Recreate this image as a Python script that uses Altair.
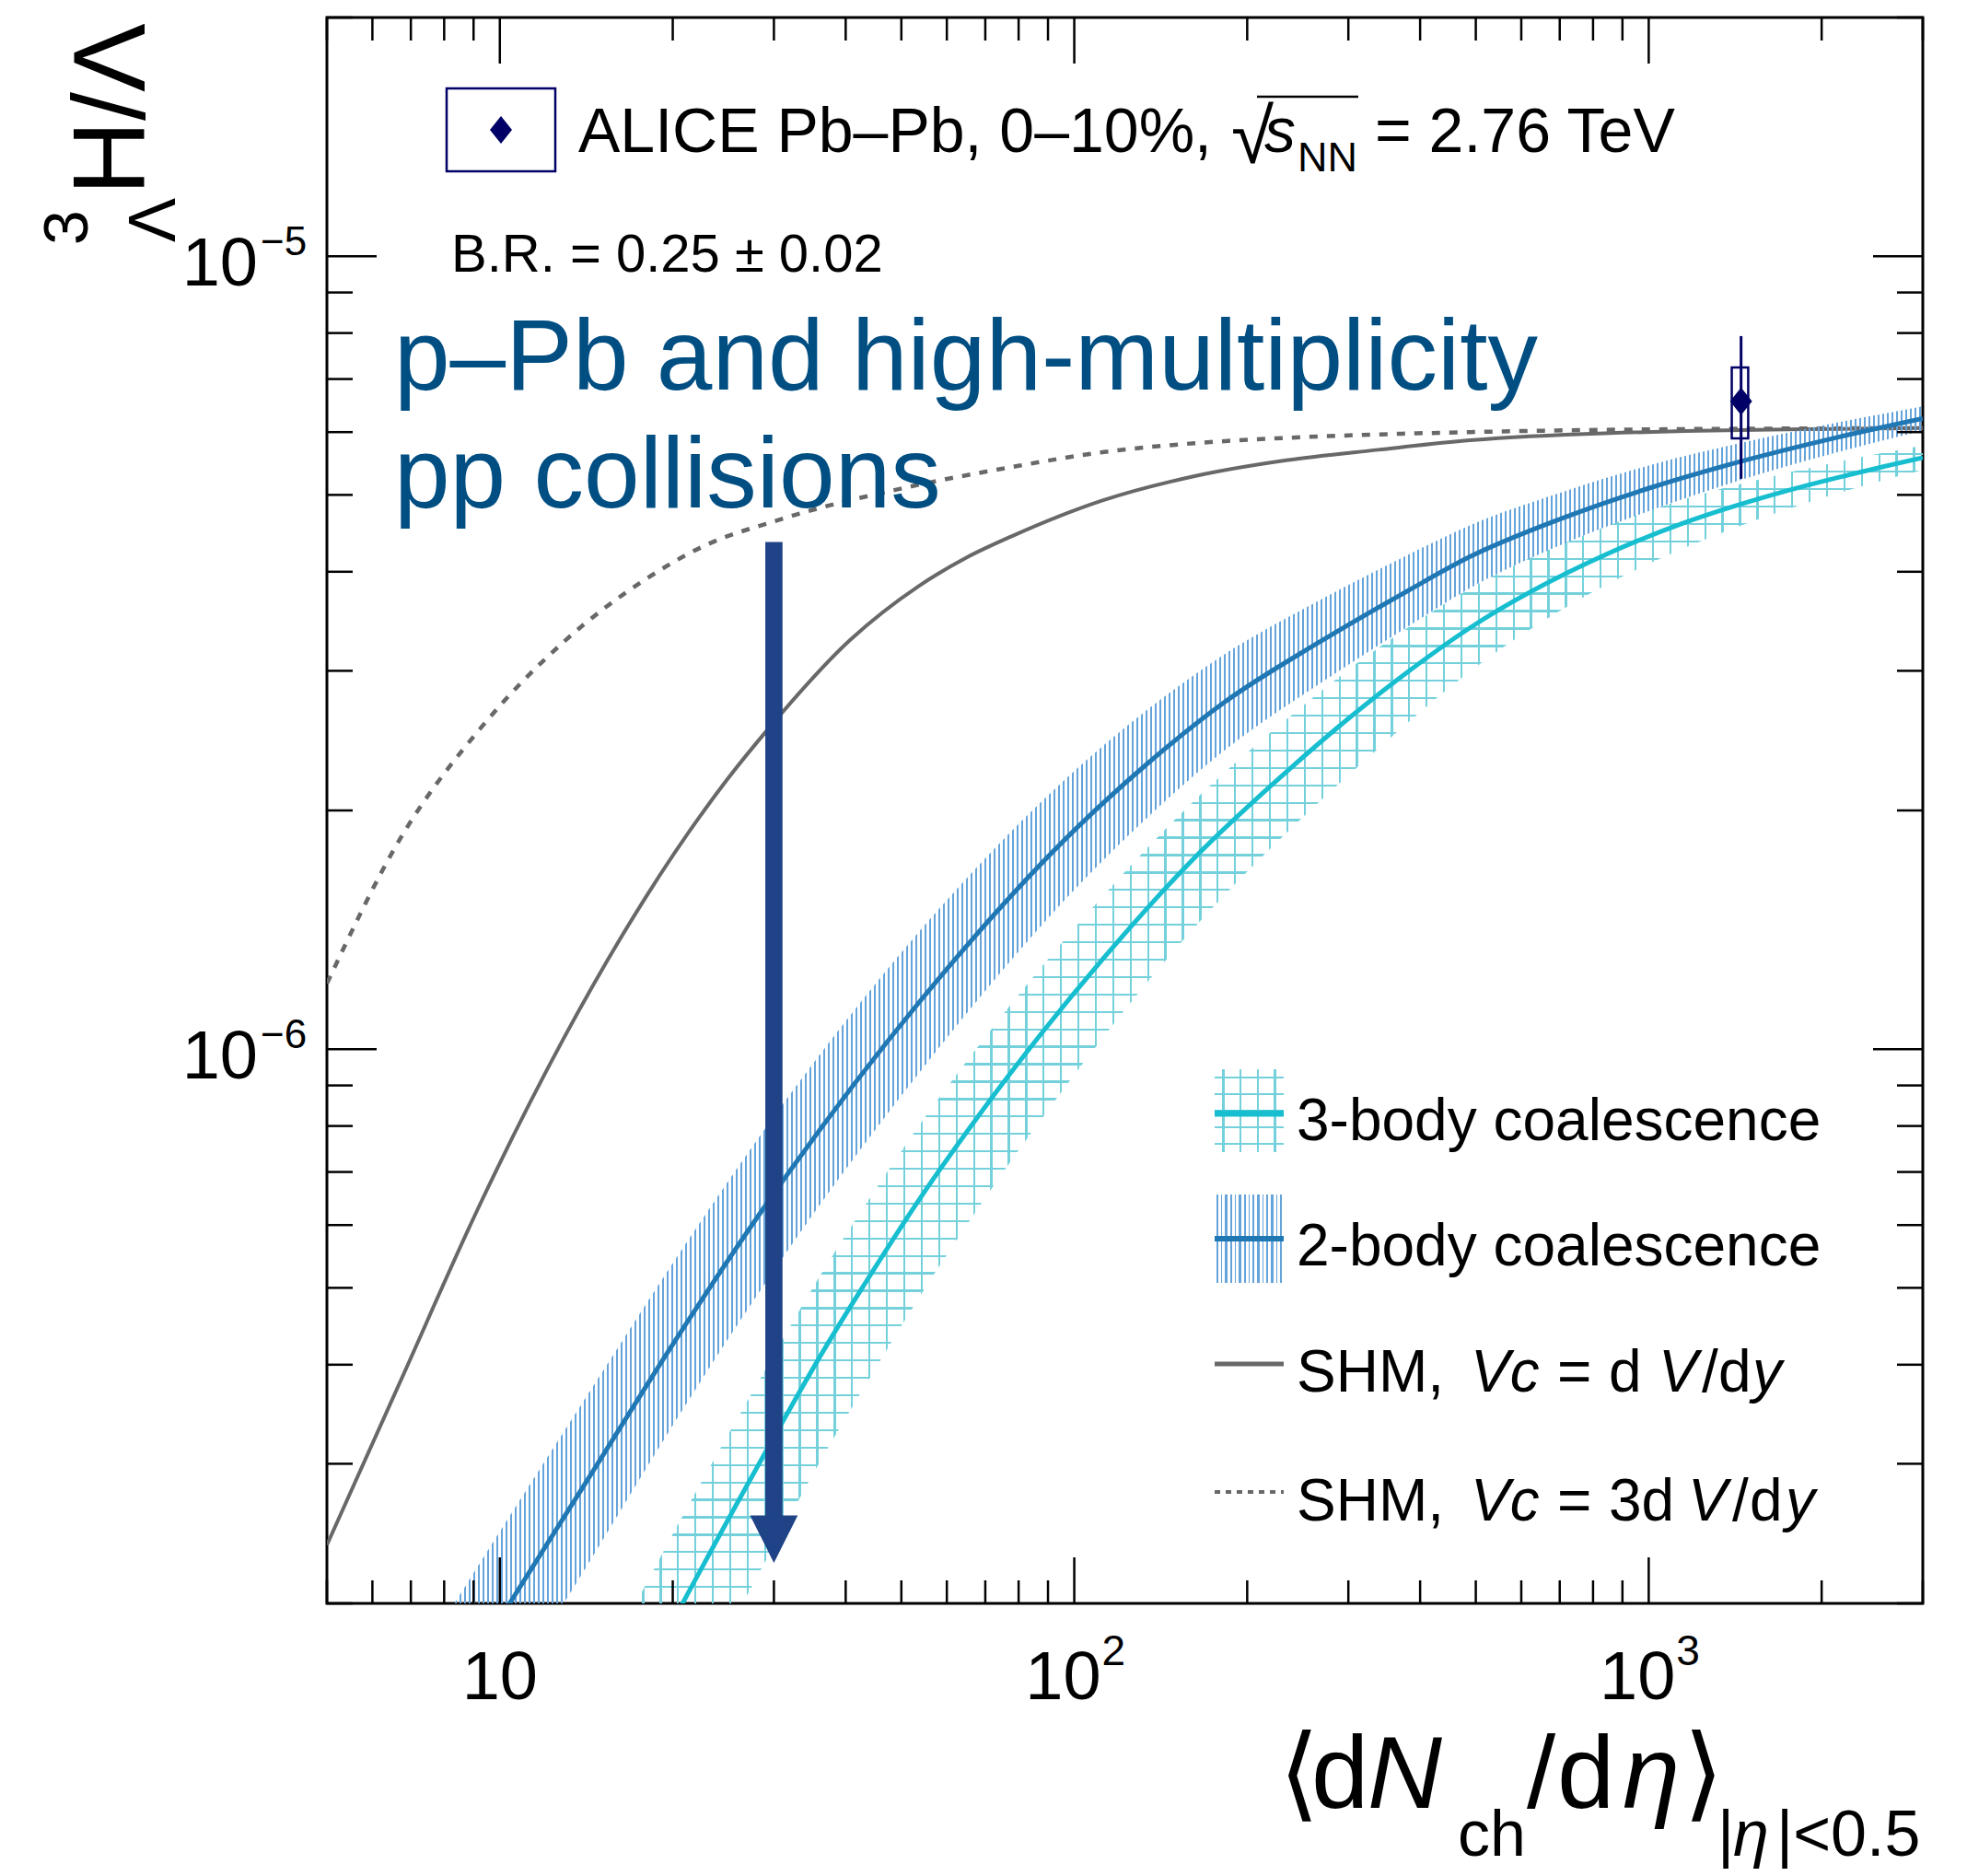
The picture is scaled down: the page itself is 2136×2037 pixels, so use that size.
import altair as alt
import pandas as pd

FONT = "Liberation Sans, Arial, Helvetica, sans-serif"
W, H = 1733, 1722

# ---------------- values ----------------
# SHM, Vc = dV/dy  (solid grey)
shm1_x = [5, 6.7, 9.3, 12.9, 17.9, 24.9, 29.4, 40.7, 53.7, 65, 77.6, 112, 162, 234, 338, 489, 837, 3000]
shm1_y = [2.37e-7, 3.80e-7, 6.44e-7, 1.03e-6, 1.55e-6, 2.19e-6, 2.54e-6, 3.28e-6, 3.84e-6, 4.17e-6,
          4.43e-6, 4.92e-6, 5.28e-6, 5.53e-6, 5.70e-6, 5.86e-6, 5.98e-6, 6.07e-6]
# SHM, Vc = 3dV/dy  (dotted grey)
shm3_x = [5, 6.7, 9.3, 12.9, 17.9, 22.5, 30.9, 53.7, 77.6, 112, 162, 234, 338, 489, 837, 3000]
shm3_y = [1.21e-6, 1.84e-6, 2.55e-6, 3.26e-6, 3.91e-6, 4.30e-6, 4.66e-6, 5.15e-6, 5.42e-6, 5.66e-6,
          5.81e-6, 5.90e-6, 5.96e-6, 6.00e-6, 6.04e-6, 6.07e-6]
# 2-body coalescence: central value and band
b2_x = [8, 10.4, 14.8, 19.9, 30.9, 53.7, 101.6, 133, 183, 265, 382, 489, 706, 1020, 1474, 2131, 3000]
b2_y = [1.48e-7, 2.00e-7, 3.00e-7, 4.22e-7, 6.78e-7, 1.146e-6, 1.909e-6, 2.28e-6, 2.742e-6, 3.25e-6,
        3.79e-6, 4.18e-6, 4.67e-6, 5.12e-6, 5.53e-6, 5.91e-6, 6.24e-6]
b2_hi = [1.907e-7, 2.576e-7, 3.835e-7, 5.340e-7, 8.472e-7, 1.407e-6, 2.267e-6, 2.668e-6, 3.152e-6,
         3.671e-6, 4.205e-6, 4.579e-6, 5.038e-6, 5.468e-6, 5.832e-6, 6.170e-6, 6.465e-6]
b2_lo = [1.149e-7, 1.553e-7, 2.347e-7, 3.335e-7, 5.426e-7, 9.335e-7, 1.607e-6, 1.949e-6, 2.385e-6,
         2.878e-6, 3.416e-6, 3.816e-6, 4.328e-6, 4.794e-6, 5.244e-6, 5.661e-6, 6.023e-6]
# 3-body coalescence: central value and band
b3_x = [16, 20.8, 28.7, 37.2, 42, 53.7, 68.7, 87.7, 112, 160, 234, 299, 360, 489, 848, 1153, 1667, 2131, 3000]
b3_y = [1.40e-7, 2.00e-7, 3.06e-7, 4.25e-7, 4.90e-7, 6.46e-7, 8.31e-7, 1.047e-6, 1.298e-6, 1.728e-6,
        2.237e-6, 2.606e-6, 2.900e-6, 3.401e-6, 4.215e-6, 4.611e-6, 5.017e-6, 5.257e-6, 5.57e-6]
b3_hi = [1.803e-7, 2.576e-7, 3.892e-7, 5.365e-7, 6.154e-7, 8.012e-7, 1.0176e-6, 1.2692e-6, 1.5576e-6,
         2.0423e-6, 2.6041e-6, 3.0032e-6, 3.3083e-6, 3.8108e-6, 4.5708e-6, 4.9375e-6, 5.2909e-6,
         5.502e-6, 5.771e-6]
b3_lo = [1.007e-7, 1.439e-7, 2.2295e-7, 3.136e-7, 3.634e-7, 4.864e-7, 6.369e-7, 8.168e-7, 1.0334e-6,
         1.4111e-6, 1.8735e-6, 2.2105e-6, 2.4912e-6, 2.9965e-6, 3.8578e-6, 4.2845e-6, 4.7451e-6,
         5.0229e-6, 5.3759e-6]
# ALICE Pb-Pb point
alice_x = [1448]
alice_y = [6.56e-6]
alice_stat_lo = [5.24e-6]
alice_stat_hi = [7.93e-6]
alice_sys_lo = [5.89e-6]
alice_sys_hi = [7.24e-6]
alice_sys_xlo = [1395]
alice_sys_xhi = [1490]
# arrow annotation (x position and vertical extent)
arrow_x = [30]
arrow_top = [4.36e-6]
arrow_shaft_end = [2.57e-7]
arrow_head = [2.41e-7]
# ticks and labels
x_major = [10, 100, 1000]
x_minor = [5, 6, 7, 8, 9, 20, 30, 40, 50, 60, 70, 80, 90, 200, 300, 400, 500, 600, 700, 800, 900, 2000, 3000]
y_major = [1e-6, 1e-5]
y_minor = [2e-7, 3e-7, 4e-7, 5e-7, 6e-7, 7e-7, 8e-7, 9e-7,
           2e-6, 3e-6, 4e-6, 5e-6, 6e-6, 7e-6, 8e-6, 9e-6, 2e-5]
x_lab_plain = ["10"]
x_lab_sup = ["2", "3"]
y_lab_sup = ["\u22126", "\u22125"]

GREY = "#686868"
BLUE = "#1f77b4"
CYAN = "#17becf"
NAVY = "#000066"
ARROW = "#1f4386"
ANN = "#004e82"
HATCH2 = "#65a3db"
HATCH3 = "#74d1db"

xs = alt.Scale(type="log", domain=[5, 3000], nice=False)
ys = alt.Scale(type="log", domain=[2e-7, 2e-5], nice=False)


def X(f):
    return alt.X(f, type="quantitative", scale=xs, axis=None)


def Y(f):
    return alt.Y(f, type="quantitative", scale=ys, axis=None)


def stripes(n, half, color, vertical):
    clear = "rgba(255,255,255,0)"
    stops = []
    for i in range(n):
        c = (i + 0.5) / n
        a, b = round(max(c - half, 0), 6), round(min(c + half, 1), 6)
        stops += [{"offset": a, "color": clear}, {"offset": a, "color": color},
                  {"offset": b, "color": color}, {"offset": b, "color": clear}]
    return {"gradient": "linear", "stops": stops, "x1": 0, "y1": 0,
            "x2": 1 if vertical else 0, "y2": 0 if vertical else 1}


one = pd.DataFrame({"k": [0]})


def txt(s, x, y, size, color="black", style="normal", angle=0, align="left", font=FONT):
    return alt.Chart(pd.DataFrame({"t": [s]})).mark_text(
        fontSize=size, color=color, fontStyle=style, angle=angle, align=align,
        baseline="alphabetic", font=font
    ).encode(text="t:N", x=alt.value(x), y=alt.value(y))


layers = []

# ---- SHM curves ----
df1 = pd.DataFrame({"x": shm1_x, "y": shm1_y})
df3 = pd.DataFrame({"x": shm3_x, "y": shm3_y})
layers.append(alt.Chart(df1).mark_line(color=GREY, strokeWidth=4, clip=True, interpolate="monotone")
              .encode(x=X("x"), y=Y("y")))
layers.append(alt.Chart(df3).mark_line(color=GREY, strokeWidth=4.5, strokeDash=[9, 10], clip=True,
                                       interpolate="monotone").encode(x=X("x"), y=Y("y")))

# ---- bands ----
dfb3 = pd.DataFrame({"x": b3_x, "y": b3_y, "hi": b3_hi, "lo": b3_lo})
dfb2 = pd.DataFrame({"x": b2_x, "y": b2_y, "hi": b2_hi, "lo": b2_lo})
for vert, n, half in [(True, 75, 1.15 / 1418), (False, 80, 1.15 / 1520)]:
    layers.append(alt.Chart(dfb3).mark_area(fill=stripes(n, half, HATCH3, vert), clip=True,
                                            interpolate="monotone")
                  .encode(x=X("x"), y=Y("hi"), y2=alt.Y2("lo")))
layers.append(alt.Chart(dfb2).mark_area(fill=stripes(321, 1.0 / 1606, HATCH2, True), clip=True,
                                        interpolate="monotone")
              .encode(x=X("x"), y=Y("hi"), y2=alt.Y2("lo")))
layers.append(alt.Chart(dfb3).mark_line(color=CYAN, strokeWidth=5, clip=True, interpolate="monotone")
              .encode(x=X("x"), y=Y("y")))
layers.append(alt.Chart(dfb2).mark_line(color=BLUE, strokeWidth=5, clip=True, interpolate="monotone")
              .encode(x=X("x"), y=Y("y")))

# ---- ALICE point ----
dfa = pd.DataFrame({"x": alice_x, "y": alice_y, "slo": alice_stat_lo, "shi": alice_stat_hi,
                    "ylo": alice_sys_lo, "yhi": alice_sys_hi, "xlo": alice_sys_xlo, "xhi": alice_sys_xhi})
layers.append(alt.Chart(dfa).mark_rect(fillOpacity=0, stroke=NAVY, strokeWidth=2.5)
              .encode(x=X("xlo"), x2=alt.X2("xhi"), y=Y("ylo"), y2=alt.Y2("yhi")))
layers.append(alt.Chart(dfa).mark_rule(color=NAVY, strokeWidth=3)
              .encode(x=X("x"), y=Y("slo"), y2=alt.Y2("shi")))
layers.append(alt.Chart(dfa).mark_point(shape="M0,-1L0.8,0L0,1L-0.8,0Z", size=900, filled=True,
                                        color=NAVY, opacity=1).encode(x=X("x"), y=Y("y")))

# ---- arrow ----
dfar = pd.DataFrame({"x": arrow_x, "top": arrow_top, "end": arrow_shaft_end, "head": arrow_head})
layers.append(alt.Chart(dfar).mark_rule(color=ARROW, strokeWidth=18.7, strokeCap="butt")
              .encode(x=X("x"), y=Y("top"), y2=alt.Y2("end")))
layers.append(alt.Chart(dfar).mark_point(shape="M-1,-1L1,-1L0,1Z", size=2673, filled=True,
                                         color=ARROW, opacity=1).encode(x=X("x"), y=Y("head")))

# ---- ticks (inward, on all four sides) ----
def xticks(vals, length, top):
    y0, y1 = (0, length) if top else (H, H - length)
    return alt.Chart(pd.DataFrame({"v": vals})).mark_rule(color="black", strokeWidth=2.5).encode(
        x=X("v"), y=alt.value(y0), y2=alt.value(y1))


def yticks(vals, length, right):
    x0, x1 = (W, W - length) if right else (0, length)
    return alt.Chart(pd.DataFrame({"v": vals})).mark_rule(color="black", strokeWidth=2.5).encode(
        y=Y("v"), x=alt.value(x0), x2=alt.value(x1))


for top in (False, True):
    layers.append(xticks(x_major, 50, top))
    layers.append(xticks(x_minor, 25, top))
for right in (False, True):
    layers.append(yticks(y_major, 54, right))
    layers.append(yticks(y_minor, 28, right))

# ---- tick labels ----
layers.append(alt.Chart(pd.DataFrame({"v": [10], "t": x_lab_plain})).mark_text(
    align="center", baseline="alphabetic", fontSize=74, font=FONT, color="black").encode(
    x=X("v"), y=alt.value(H + 104), text="t:N"))
dfx2 = pd.DataFrame({"v": [100, 1000], "t": ["10", "10"], "s": x_lab_sup})
layers.append(alt.Chart(dfx2).mark_text(align="right", baseline="alphabetic", fontSize=74, font=FONT,
                                        dx=29, color="black").encode(
    x=X("v"), y=alt.value(H + 104), text="t:N"))
layers.append(alt.Chart(dfx2).mark_text(align="left", baseline="alphabetic", fontSize=46, font=FONT,
                                        dx=30, color="black").encode(
    x=X("v"), y=alt.value(H + 67), text="s:N"))
dfy = pd.DataFrame({"v": y_major, "t": ["10", "10"], "s": y_lab_sup})
layers.append(alt.Chart(dfy).mark_text(align="right", baseline="alphabetic", fontSize=74, font=FONT,
                                       dy=32, color="black").encode(
    y=Y("v"), x=alt.value(-75), text="t:N"))
layers.append(alt.Chart(dfy).mark_text(align="left", baseline="alphabetic", fontSize=44, font=FONT,
                                       dy=-1, color="black").encode(
    y=Y("v"), x=alt.value(-72), text="s:N"))

# ---- y title:  3_Lambda H / Lambda ----
layers.append(txt("H/\u039b", -198, 193, 112, angle=270))
layers.append(txt("\u039b", -165, 244, 72, angle=270))
layers.append(txt("3", -260, 247, 68, angle=270))

# ---- x title: <dN_ch/d eta>_{|eta|<0.5} ----
layers.append(txt("\u27e8", 1034, 1944, 112, font="DejaVu Sans"))
layers.append(txt("d", 1069, 1944, 112))
layers.append(txt("N", 1130, 1944, 112, style="italic"))
layers.append(txt("ch", 1228, 1996, 70))
layers.append(txt("/", 1303, 1944, 112))
layers.append(txt("d", 1336, 1944, 112))
layers.append(txt("\u03b7", 1407, 1944, 112, style="italic"))
layers.append(txt("\u27e9", 1473, 1944, 112, font="DejaVu Sans"))
layers.append(txt("|", 1510, 1996, 70))
layers.append(txt("\u03b7", 1527, 1996, 70, style="italic"))
layers.append(txt("|<0.5", 1574, 1996, 70))

# ---- top legend (ALICE) ----
layers.append(alt.Chart(one).mark_rect(fillOpacity=0, stroke=NAVY, strokeWidth=2.5).encode(
    x=alt.value(130), x2=alt.value(248), y=alt.value(77), y2=alt.value(167)))
layers.append(alt.Chart(one).mark_point(shape="M0,-1L0.8,0L0,1L-0.8,0Z", size=900, filled=True,
                                        color=NAVY, opacity=1).encode(x=alt.value(189), y=alt.value(122)))
layers.append(txt("ALICE Pb\u2013Pb, 0\u201310%,", 273, 146, 68))
layers.append(txt("\u221a", 982, 158, 84))
layers.append(alt.Chart(one).mark_rule(color="black", strokeWidth=2.5).encode(
    x=alt.value(1010), x2=alt.value(1120), y=alt.value(86)))
layers.append(txt("s", 1018, 146, 68, style="italic"))
layers.append(txt("NN", 1054, 167, 45))
layers.append(txt("= 2.76 TeV", 1138, 146, 68))
layers.append(txt("B.R. = 0.25 \u00b1 0.02", 135, 276, 58))

# ---- blue annotation ----
layers.append(txt("p\u2013Pb and high-multiplicity", 73, 404, 109, color=ANN))
layers.append(txt("pp collisions", 73, 532, 109, color=ANN))

# ---- bottom-right legend ----
layers.append(alt.Chart(one).mark_rect(fill=stripes(4, 1.2 / 75, HATCH3, True)).encode(
    x=alt.value(964), x2=alt.value(1039), y=alt.value(1142), y2=alt.value(1232)))
layers.append(alt.Chart(one).mark_rect(fill=stripes(5, 1.2 / 90, HATCH3, False)).encode(
    x=alt.value(964), x2=alt.value(1039), y=alt.value(1142), y2=alt.value(1232)))
layers.append(alt.Chart(one).mark_rule(color=CYAN, strokeWidth=7).encode(
    x=alt.value(964), x2=alt.value(1039), y=alt.value(1190)))
layers.append(alt.Chart(one).mark_rect(fill=stripes(15, 1.0 / 75, HATCH2, True)).encode(
    x=alt.value(964), x2=alt.value(1039), y=alt.value(1278), y2=alt.value(1374)))
layers.append(alt.Chart(one).mark_rule(color=BLUE, strokeWidth=6).encode(
    x=alt.value(964), x2=alt.value(1039), y=alt.value(1326)))
layers.append(alt.Chart(one).mark_rule(color=GREY, strokeWidth=5).encode(
    x=alt.value(964), x2=alt.value(1039), y=alt.value(1462)))
layers.append(alt.Chart(one).mark_rule(color=GREY, strokeWidth=4, strokeDash=[6, 6]).encode(
    x=alt.value(964), x2=alt.value(1039), y=alt.value(1601)))
layers.append(txt("3-body coalescence", 1053, 1219, 64))
layers.append(txt("2-body coalescence", 1053, 1355, 64))
row3 = [("SHM,", 1053, "normal"), ("Vc", 1242, "italic"), ("=", 1336, "normal"), ("d", 1392, "normal"),
        ("V", 1446, "italic"), ("/", 1493, "normal"), ("d", 1511, "normal"), ("y", 1548, "italic")]
row4 = [("SHM,", 1053, "normal"), ("Vc", 1242, "italic"), ("=", 1336, "normal"), ("3d", 1392, "normal"),
        ("V", 1478, "italic"), ("/", 1526, "normal"), ("d", 1545, "normal"), ("y", 1584, "italic")]
for s, x, st in row3:
    layers.append(txt(s, x, 1492, 64, style=st))
for s, x, st in row4:
    layers.append(txt(s, x, 1632, 64, style=st))

chart = alt.layer(*layers).properties(
    width=W, height=H,
    padding={"left": 347, "top": 11, "right": 40, "bottom": 288},
    autosize=alt.AutoSizeParams(type="none"),
    background="white",
).configure_view(stroke="black", strokeWidth=3)

chart.save("out.html", embed_options={"renderer": "svg", "actions": False})
